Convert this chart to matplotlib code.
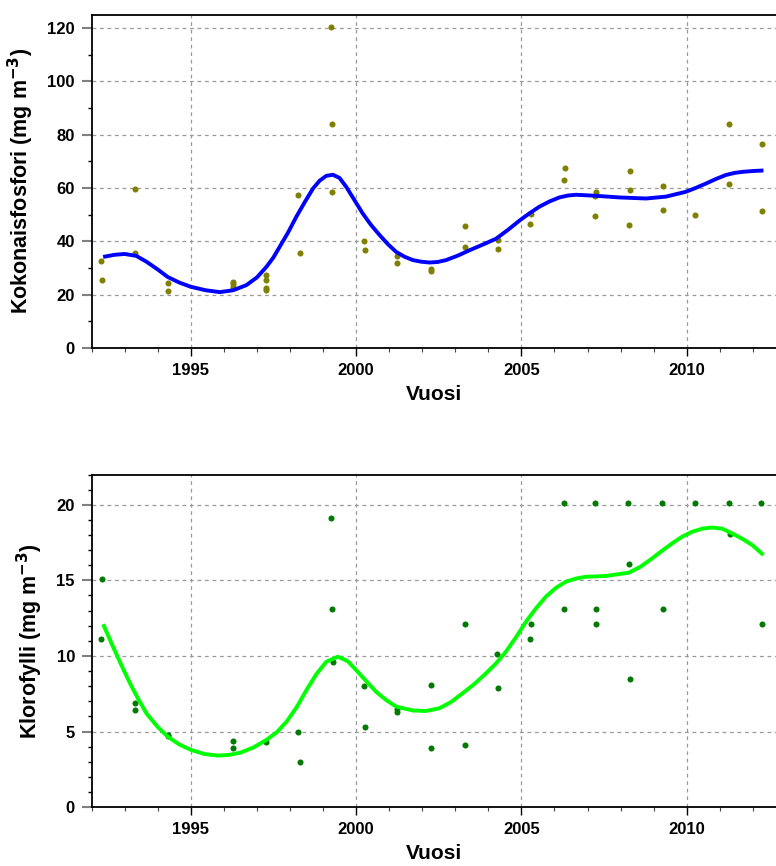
import matplotlib
matplotlib.use("Agg")
import matplotlib.pyplot as plt
from matplotlib.ticker import MultipleLocator

plt.rcParams['font.family'] = ['Liberation Sans', 'DejaVu Sans']
plt.rcParams['font.weight'] = 'bold'

# total phosphorus samples
tp_year = [1992.30, 1992.32, 1993.30, 1993.30, 1994.30, 1994.30,
           1996.29, 1996.29, 1996.29, 1997.28, 1997.28, 1997.28, 1997.28,
           1998.25, 1998.29, 1999.24, 1999.27, 1999.28, 2000.24, 2000.26,
           2001.23, 2001.25, 2002.26, 2002.28, 2003.28, 2003.30, 2004.30, 2004.28,
           2005.28, 2005.27, 2006.31, 2006.30, 2007.23, 2007.25, 2007.24,
           2008.27, 2008.28, 2008.26, 2009.28, 2009.27, 2010.26, 2011.29, 2011.28,
           2012.29, 2012.28]
tp_value = [32.6, 25.6, 59.5, 35.6, 24.6, 21.6,
            24.7, 23.9, 23.0, 27.6, 25.6, 22.6, 21.7,
            57.5, 35.5, 120.4, 84.1, 58.7, 40.1, 36.9,
            32.1, 34.6, 29.7, 29.1, 45.9, 37.9, 40.5, 37.0,
            50.4, 46.5, 67.5, 63.0, 56.9, 58.6, 49.7,
            66.5, 59.4, 46.2, 60.7, 51.9, 50.1, 84.2, 61.6,
            76.4, 51.3]

# smoothed trend for phosphorus
tp_trend_year = [1992.35, 1992.7, 1993.0, 1993.35, 1993.66, 1994.0, 1994.3, 1994.65, 1995.0,
                 1995.45, 1995.88, 1996.28, 1996.68, 1997.0, 1997.29, 1997.5, 1997.69,
                 1997.95, 1998.19, 1998.45, 1998.7, 1998.9, 1999.1, 1999.3, 1999.5,
                 1999.7, 1999.95, 2000.2, 2000.45, 2000.71, 2000.96, 2001.21, 2001.46,
                 2001.72, 2001.97, 2002.22, 2002.47, 2002.72, 2003.08, 2003.43, 2003.83,
                 2004.23, 2004.6, 2004.96, 2005.25, 2005.54, 2005.85, 2006.15, 2006.4,
                 2006.65, 2007.26, 2007.96, 2008.77, 2009.37, 2009.97, 2010.28, 2010.58,
                 2010.88, 2011.18, 2011.45, 2011.69, 2012.0, 2012.32]
tp_trend = [34.2, 35.0, 35.3, 34.6, 32.4, 29.5, 26.7, 24.6, 23.0,
            21.7, 21.0, 21.7, 23.6, 26.5, 30.5, 34.0, 38.0,
            43.5, 49.2, 54.8, 59.9, 62.8, 64.6, 65.0, 63.8,
            60.5, 55.5, 50.5, 46.2, 42.4, 39.0, 36.1, 34.3,
            33.0, 32.4, 32.1, 32.3, 33.0, 34.7, 36.7, 38.8,
            41.0, 44.4, 48.0, 50.6, 53.0, 55.0, 56.5, 57.2,
            57.5, 57.1, 56.5, 56.1, 56.8, 58.6, 60.1, 61.7,
            63.4, 64.9, 65.7, 66.1, 66.4, 66.6]

# chlorophyll samples
chl_year = [1992.32, 1992.30, 1993.30, 1993.30, 1994.30, 1994.32,
            1996.29, 1996.29, 1997.28, 1998.25, 1998.29,
            1999.24, 1999.27, 1999.30, 2000.24, 2000.28, 2001.23, 2001.25,
            2002.27, 2002.28, 2003.28, 2003.30, 2004.27, 2004.30,
            2005.28, 2005.26, 2006.28, 2006.30, 2007.23, 2007.25, 2007.26,
            2008.23, 2008.26, 2008.28, 2009.25, 2009.27, 2010.26,
            2011.27, 2011.30, 2012.24, 2012.28]
chl_value = [15.1, 11.1, 6.9, 6.4, 4.8, 4.7,
             4.4, 3.9, 4.3, 5.0, 3.0,
             19.1, 13.1, 9.6, 8.0, 5.3, 6.3, 6.5,
             8.1, 3.9, 12.1, 4.1, 10.1, 7.9,
             12.1, 11.1, 20.1, 13.1, 20.1, 13.1, 12.1,
             20.1, 16.1, 8.5, 20.1, 13.1, 20.1,
             20.1, 18.1, 20.1, 12.1]

# smoothed trend for chlorophyll
chl_trend_year = [1992.35, 1992.65, 1992.9, 1993.16, 1993.4, 1993.66, 1994.0, 1994.3, 1994.65,
                  1995.0, 1995.4, 1995.8, 1996.15, 1996.5, 1996.9, 1997.29, 1997.6, 1997.9,
                  1998.2, 1998.5, 1998.8, 1999.1, 1999.45, 1999.75, 2000.0, 2000.3, 2000.6,
                  2000.9, 2001.21, 2001.72, 2002.12, 2002.52, 2002.87, 2003.22, 2003.58,
                  2003.93, 2004.23, 2004.53, 2004.84, 2005.14, 2005.44, 2005.74, 2006.04,
                  2006.34, 2006.65, 2006.95, 2007.55, 2008.25, 2008.6, 2008.95, 2009.25,
                  2009.56, 2009.87, 2010.17, 2010.47, 2010.77, 2011.07, 2011.37, 2011.68,
                  2011.98, 2012.32]
chl_trend = [12.1, 10.6, 9.4, 8.2, 7.2, 6.2, 5.3, 4.67, 4.15,
             3.79, 3.52, 3.41, 3.45, 3.6, 3.95, 4.45, 4.95, 5.66,
             6.6, 7.75, 8.8, 9.62, 9.95, 9.65, 9.07, 8.35, 7.64,
             7.1, 6.65, 6.39, 6.36, 6.54, 6.95, 7.53, 8.15,
             8.85, 9.5, 10.28, 11.25, 12.27, 13.15, 13.92, 14.5,
             14.91, 15.12, 15.24, 15.29, 15.51, 15.9, 16.45, 16.95,
             17.45, 17.9, 18.22, 18.42, 18.5, 18.42, 18.11, 17.75,
             17.34, 16.68]

fig = plt.figure(figsize=(7.76, 8.66), dpi=100)
ax1 = fig.add_axes([0.118, 0.598, 0.882, 0.385])
ax2 = fig.add_axes([0.118, 0.068, 0.882, 0.384])


def style_axes(ax, ymax, ymajor, yminor, ylabel):
    ax.set_xlim(1992, 2012.7)
    ax.set_ylim(0, ymax)
    ax.xaxis.set_major_locator(MultipleLocator(5))
    ax.xaxis.set_minor_locator(MultipleLocator(1))
    ax.yaxis.set_major_locator(MultipleLocator(ymajor))
    ax.yaxis.set_minor_locator(MultipleLocator(yminor))
    ax.grid(True, which='major', linestyle=(0, (3, 3)), color='#999999', linewidth=0.9)
    ax.set_axisbelow(True)
    ax.spines['right'].set_visible(False)
    for s in ['left', 'bottom', 'top']:
        ax.spines[s].set_linewidth(1.3)
    ax.tick_params(axis='y', which='major', length=7, width=1.5, color='#808080',
                   labelsize=12, pad=5)
    ax.tick_params(axis='y', which='minor', length=3, width=1, color='black')
    ax.tick_params(axis='x', which='major', length=6, width=1, color='black',
                   labelsize=12, pad=5)
    ax.tick_params(axis='x', which='minor', length=3, width=0.8, color='#444444')
    for lab in ax.get_xticklabels() + ax.get_yticklabels():
        lab.set_fontweight('bold')
    ax.set_xlabel('Vuosi', fontsize=15, fontweight='bold', labelpad=5)
    ax.set_ylabel(ylabel, fontsize=15.5, fontweight='bold', labelpad=8)


style_axes(ax1, 125, 20, 10, r'Kokonaisfosfori (mg m$^{\mathbf{-3}}$)')
ax1.scatter(tp_year, tp_value, s=19, color='#808000', zorder=3, linewidths=0)
ax1.plot(tp_trend_year, tp_trend, color='#0000ff', linewidth=2.8, zorder=4,
         solid_capstyle='butt', solid_joinstyle='round')

style_axes(ax2, 22, 5, 1, r'Klorofylli (mg m$^{\mathbf{-3}}$)')
ax2.scatter(chl_year, chl_value, s=19, color='#007a00', zorder=3, linewidths=0)
ax2.plot(chl_trend_year, chl_trend, color='#00ff00', linewidth=2.8, zorder=4,
         solid_capstyle='butt', solid_joinstyle='round')

fig.savefig('out.png', dpi=100)
